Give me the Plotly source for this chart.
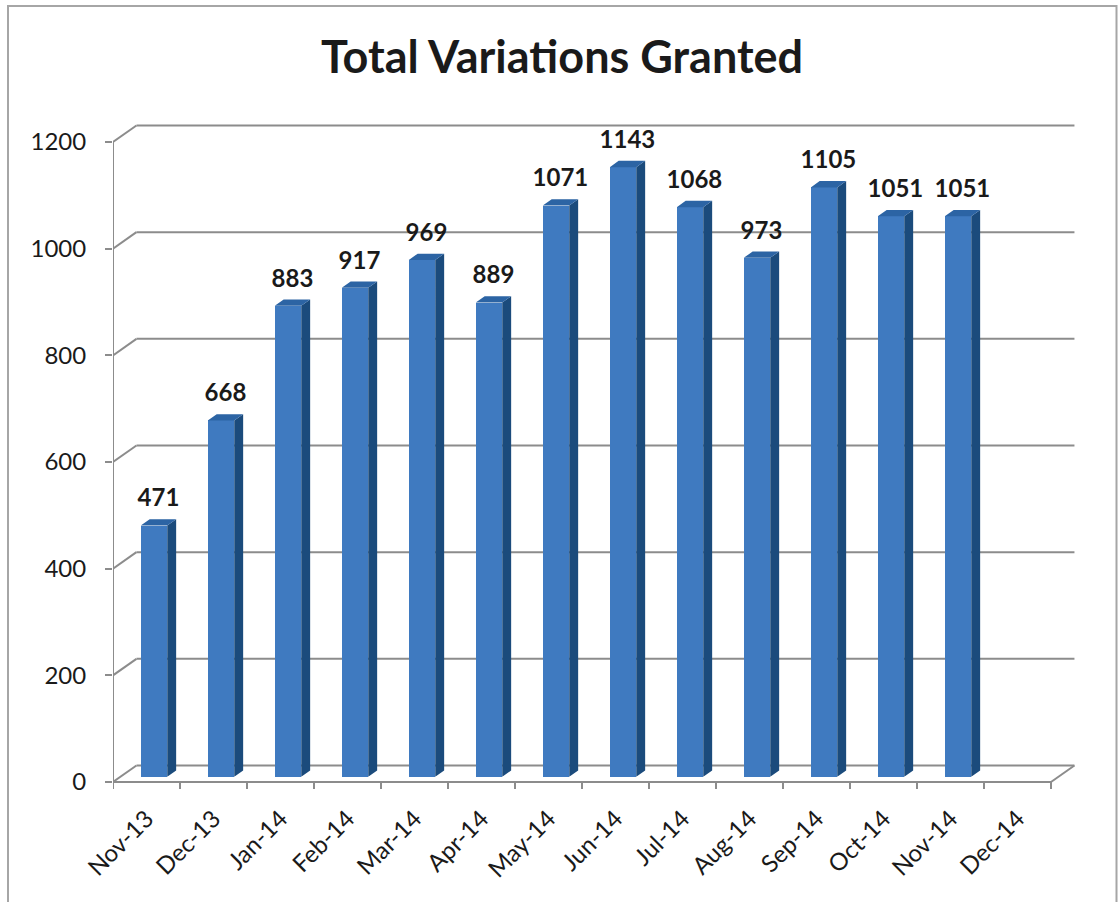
import plotly.graph_objects as go

# ---- data ----
months = ["Nov-13", "Dec-13", "Jan-14", "Feb-14", "Mar-14", "Apr-14", "May-14",
          "Jun-14", "Jul-14", "Aug-14", "Sep-14", "Oct-14", "Nov-14", "Dec-14"]
values = [471, 668, 883, 917, 969, 889, 1071, 1143, 1068, 973, 1105, 1051, 1051, None]
y_ticks = [0, 200, 400, 600, 800, 1000, 1200]
title_text = "Total Variations Granted"

# ---- 3D projection style parameters ----
DX = 0.35      # depth offset in category units
DY = 31.0      # depth offset in value units
F = 0.32       # depth fraction where bar front face sits
D = 0.38       # bar depth fraction
W = 0.395      # bar front face width (category units)
XMAX = 967 / 67.0
YMIN, YMAX = -15, 1241.3

FRONT = "#3F7AC0"
SIDE = "#1B4B7C"
TOP = "#2C64A4"
GRID = "#8C8C8C"
FONT = "Lato"

n = len(months)
fig = go.Figure()

# front faces (bars)
bx, by, bbase = [], [], []
for i, v in enumerate(values):
    if v is None:
        continue
    bx.append(i + 0.5 + F * DX)
    by.append(v)
    bbase.append(F * DY)
fig.add_trace(go.Bar(x=bx, y=by, base=bbase, width=W, marker=dict(color=FRONT, line=dict(width=0)),
                     hoverinfo="skip", showlegend=False))

# side faces and top faces
sx, sy, tx, ty = [], [], [], []
for i, v in enumerate(values):
    if v is None:
        continue
    x0 = i + 0.5 + F * DX - W / 2
    x1 = x0 + W
    b = F * DY
    t = v + F * DY
    sx += [x1, x1 + D * DX, x1 + D * DX, x1, x1, None]
    sy += [b, b + D * DY, t + D * DY, t, b, None]
    tx += [x0, x1, x1 + D * DX, x0 + D * DX, x0, None]
    ty += [t, t, t + D * DY, t + D * DY, t, None]
fig.add_trace(go.Scatter(x=sx, y=sy, mode="lines", fill="toself", fillcolor=SIDE,
                         line=dict(width=0, color=SIDE), hoverinfo="skip", showlegend=False))
fig.add_trace(go.Scatter(x=tx, y=ty, mode="lines", fill="toself", fillcolor=TOP,
                         line=dict(width=0, color=TOP), hoverinfo="skip", showlegend=False))

# data labels
lx, ly, lt = [], [], []
for i, v in enumerate(values):
    if v is None:
        continue
    lx.append(i + 0.5 + F * DX + D * DX / 2)
    ly.append(v + 57)
    lt.append(str(v))
fig.add_trace(go.Scatter(x=lx, y=ly, mode="text", text=lt, textposition="middle center",
                         textfont=dict(family=FONT, size=24, color="#1a1a1a", weight="bold"),
                         hoverinfo="skip", showlegend=False))

shapes = []
line_style = dict(color=GRID, width=2)
# gridlines on back wall + diagonals on side wall
for v in y_ticks:
    shapes.append(dict(type="line", xref="x", yref="y", x0=0, y0=v, x1=DX, y1=v + DY,
                       line=line_style, layer="below"))
    shapes.append(dict(type="line", xref="x", yref="y", x0=DX, y0=v + DY, x1=n + DX, y1=v + DY,
                       line=line_style, layer="below"))
# floor front and right edges
shapes.append(dict(type="line", xref="x", yref="y", x0=0, y0=0, x1=n, y1=0, line=line_style, layer="below"))
shapes.append(dict(type="line", xref="x", yref="y", x0=n, y0=0, x1=n + DX, y1=DY, line=line_style, layer="below"))
# front vertical axis line
shapes.append(dict(type="line", xref="x", yref="y", x0=0, y0=0, x1=0, y1=y_ticks[-1], line=line_style))
# x tick marks at category boundaries
for i in range(n + 1):
    shapes.append(dict(type="line", xref="x", yref="y", x0=i, y0=0, x1=i, y1=-13, line=line_style))

# outer border (bottom edge falls outside the page)
L, T = 113, 120
PW, PH = 967, 670
def px(x):
    return (x - L) / PW
def py(y):
    return 1 - (y - T) / PH
shapes.append(dict(type="rect", xref="paper", yref="paper", x0=px(8), y0=py(910), x1=px(1116.5), y1=py(6),
                   line=dict(color="#A6A6A6", width=2), fillcolor="rgba(0,0,0,0)"))

fig.update_layout(
    width=1118, height=902,
    margin=dict(l=L, r=1118 - L - PW, t=T, b=902 - T - PH),
    paper_bgcolor="white", plot_bgcolor="white",
    shapes=shapes,
    bargap=0,
    title=dict(text=title_text, x=562 / 1118, xanchor="center", xref="container",
               y=1 - 57 / 902, yanchor="middle", yref="container",
               font=dict(family=FONT, size=45, color="#1a1a1a", weight="bold")),
    xaxis=dict(range=[0, XMAX], tickvals=[i + 0.5 for i in range(n)], ticktext=months,
               tickangle=-45, showgrid=False, zeroline=False, showline=False, ticks="",
               ticklabelstandoff=9,
               tickfont=dict(family=FONT, size=24, color="#1a1a1a"), fixedrange=True),
    yaxis=dict(range=[YMIN, YMAX], tickvals=y_ticks, ticktext=[str(v) for v in y_ticks],
               showgrid=False, zeroline=False, showline=False, ticks="outside", ticklen=7,
               tickwidth=2, tickcolor=GRID, ticklabelstandoff=14,
               tickfont=dict(family=FONT, size=24, color="#1a1a1a"), fixedrange=True),
    font=dict(family=FONT),
)

fig.write_html("out.html", config={"displayModeBar": False},
               post_script="document.body.style.margin='0';")
